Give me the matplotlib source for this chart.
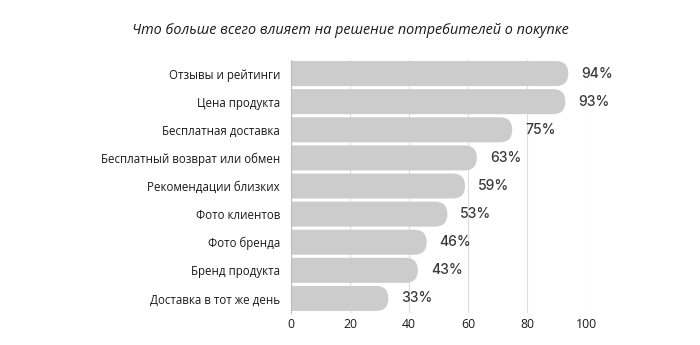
import matplotlib
matplotlib.use("Agg")
import matplotlib.pyplot as plt
from matplotlib.patches import FancyBboxPatch

title = "Что больше всего влияет на решение потребителей о покупке"
categories = ["Отзывы и рейтинги", "Цена продукта", "Бесплатная доставка",
              "Бесплатный возврат или обмен", "Рекомендации близких",
              "Фото клиентов", "Фото бренда", "Бренд продукта",
              "Доставка в тот же день"]
values = [94, 93, 75, 63, 59, 53, 46, 43, 33]
xticks = [0, 20, 40, 60, 80, 100]

W, H = 700, 345
fig = plt.figure(figsize=(W / 100, H / 100), dpi=100)
left, right, top, bottom = 291, 586, 59.5, 312.5
ax = fig.add_axes([left / W, 1 - bottom / H, (right - left) / W, (bottom - top) / H])

n = len(categories)
ys = list(range(n))[::-1]
bar_h = 0.89
ax.set_xlim(0, 100)
ax.set_ylim(-0.5, n - 0.5)

# pixel scales, so the round end looks circular
px_x = (right - left) / 100
px_y = (bottom - top) / n
r_px = bar_h * px_y / 2
r_x = r_px / px_x
aspect = (r_px / px_y) / r_x

bars = ax.barh(ys, values, height=bar_h, color="#cccccc")
for b in bars:
    x0, y0 = b.get_x(), b.get_y()
    w, h = b.get_width(), b.get_height()
    b.set_visible(False)
    # start left of the axes so the left rounding gets clipped away
    p = FancyBboxPatch((x0 - 2 * r_x, y0), w + 2 * r_x, h,
                       boxstyle=f"round,pad=0,rounding_size={r_x}",
                       mutation_aspect=aspect, fc="#cccccc", ec="none", zorder=2)
    ax.add_patch(p)

for y, v in zip(ys, values):
    ax.text(v + 13 / px_x, y, f"{v}%", va="center", ha="left", fontsize=10,
            family="Inter", fontweight="medium", color="#3a3a3a")

ax.set_yticks(ys)
ax.set_yticklabels(categories, family="Open Sans", fontsize=8.3, color="#1a1a1a")
ax.set_xticks(xticks)
ax.set_xticklabels([str(t) for t in xticks], family="Open Sans", fontsize=8.8, color="#1a1a1a")
ax.tick_params(length=0, pad=8)
ax.tick_params(axis="x", pad=4)
ax.grid(axis="x", color="#dddddd", lw=0.8, zorder=0)
ax.set_axisbelow(True)
for s in ["top", "right", "bottom"]:
    ax.spines[s].set_visible(False)
ax.spines["left"].set_color("#bbbbbb")
ax.spines["left"].set_zorder(3)

fig.text(0.5, 1 - 30 / H, title, ha="center", va="center", fontsize=10.4,
         family="Open Sans", style="italic", color="#1a1a1a")

fig.savefig("out.png", dpi=100, facecolor="white")
